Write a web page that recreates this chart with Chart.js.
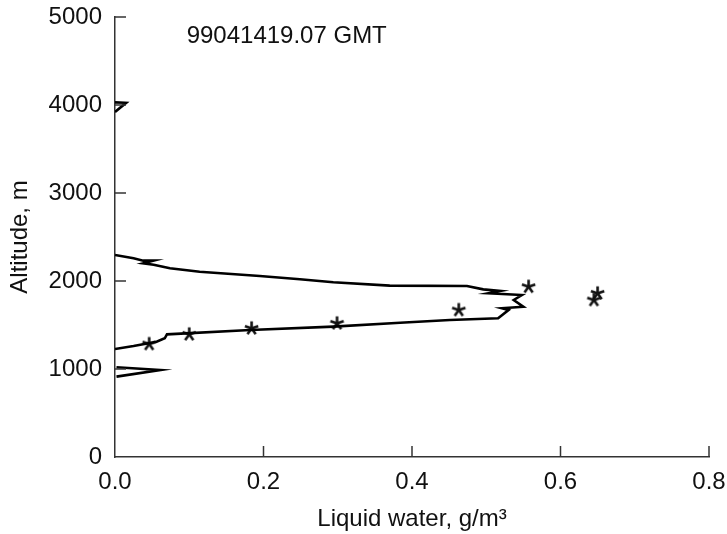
<!DOCTYPE html>
<html>
<head>
<meta charset="utf-8">
<script src="https://cdn.jsdelivr.net/npm/chart.js@4/dist/chart.umd.min.js"></script>
<style>
  html, body { margin: 0; padding: 0; background: #fff; }
  #wrap { width: 727px; height: 534px; }
</style>
</head>
<body>
<div id="wrap"><canvas id="c" width="727" height="534"></canvas></div>
<script>
// ---- data ----
const chartTitle = "99041419.07 GMT";
const xAxisTitle = "Liquid water, g/m\u00B3";
const yAxisTitle = "Altitude, m";
const xTicks = [0.0, 0.2, 0.4, 0.6, 0.8];
const yTicks = [0, 1000, 2000, 3000, 4000, 5000];

// measured liquid water profile (null = gap)
const profileLW = [
  0.000, 0.015, 0.000, null,
  0.000, 0.025, 0.038, 0.052, 0.038, 0.052, 0.074, 0.114, 0.195, 0.249, 0.294,
  0.370, 0.474, 0.496, 0.519, 0.503, 0.548, 0.537, 0.550, 0.521, 0.530, 0.516,
  0.451, 0.384, 0.294, 0.182, 0.070, 0.067, 0.056, 0.025, 0.000, null,
  0.002, 0.061, 0.002
];
const profileAlt = [
  4030, 4025, 3920, null,
  2295, 2258, 2231, 2231, 2201, 2185, 2144, 2106, 2057, 2019, 1985,
  1947, 1943, 1905, 1886, 1860, 1841, 1784, 1708, 1690, 1670, 1576,
  1557, 1526, 1481, 1443, 1394, 1349, 1310, 1261, 1227, null,
  1020, 989, 913
];

// retrieved points (asterisks)
const starLW  = [0.046, 0.100, 0.184, 0.299, 0.463, 0.557, 0.650, 0.645];
const starAlt = [1284, 1394, 1462, 1519, 1670, 1935, 1860, 1784];

// ---- build ----
const FONT = '"Liberation Sans", Arial, Helvetica, sans-serif';
const TXT = '#111';

function makeAsterisk() {
  const c = document.createElement('canvas');
  c.width = 17; c.height = 17;
  const g = c.getContext('2d');
  g.strokeStyle = '#111';
  g.lineWidth = 2.6;
  g.lineCap = 'butt';
  const cx = 8.5, cy = 8.5, r = 7;
  for (let k = 0; k < 5; k++) {
    const a = -Math.PI / 2 + k * 2 * Math.PI / 5;
    g.beginPath();
    g.moveTo(cx, cy);
    g.lineTo(cx + r * Math.cos(a), cy + r * Math.sin(a));
    g.stroke();
  }
  return c;
}

const profileData = profileLW.map((v, i) => ({ x: v, y: profileAlt[i] }));
const starData = starLW.map((v, i) => ({ x: v, y: starAlt[i] }));

const innerTicks = {
  id: 'innerTicks',
  afterDatasetsDraw(chart) {
    const { ctx, scales: { x, y }, chartArea } = chart;
    ctx.save();
    ctx.strokeStyle = '#333';
    ctx.lineWidth = 1.5;
    const L = 11;
    yTicks.forEach(v => {
      if (v === 0) return;
      const py = y.getPixelForValue(v);
      ctx.beginPath();
      ctx.moveTo(chartArea.left, py);
      ctx.lineTo(chartArea.left + L, py);
      ctx.stroke();
    });
    xTicks.forEach(v => {
      if (v === 0) return;
      const px = x.getPixelForValue(v);
      ctx.beginPath();
      ctx.moveTo(px, chartArea.bottom);
      ctx.lineTo(px, chartArea.bottom - L);
      ctx.stroke();
    });
    // inner title
    ctx.fillStyle = TXT;
    ctx.font = '24px ' + FONT;
    ctx.textAlign = 'left';
    ctx.textBaseline = 'middle';
    ctx.fillText(chartTitle, x.getPixelForValue(0.0965), y.getPixelForValue(4775));
    ctx.restore();
  }
};

new Chart(document.getElementById('c'), {
  type: 'scatter',
  data: {
    datasets: [
      {
        data: profileData,
        showLine: true,
        spanGaps: false,
        borderColor: '#000',
        borderWidth: 2.6,
        pointRadius: 0,
        tension: 0,
        fill: false
      },
      {
        data: starData,
        showLine: false,
        pointStyle: makeAsterisk(),
        pointRadius: 8,
        borderColor: '#111',
        backgroundColor: '#111'
      }
    ]
  },
  options: {
    responsive: false,
    animation: false,
    devicePixelRatio: 1,
    layout: { padding: { top: 17, right: 18, left: 0, bottom: 0 } },
    plugins: { legend: { display: false }, tooltip: { enabled: false }, title: { display: false } },
    scales: {
      x: {
        type: 'linear',
        min: 0, max: 0.8,
        afterBuildTicks: s => { s.ticks = xTicks.map(v => ({ value: v })); },
        ticks: {
          callback: v => Number(v).toFixed(1),
          font: { family: FONT, size: 24 },
          color: TXT,
          padding: 11,
          maxRotation: 0,
          autoSkip: false
        },
        grid: { display: false, drawTicks: false, tickLength: 0 },
        border: { display: true, color: '#333', width: 1.5 },
        title: {
          display: true,
          text: xAxisTitle,
          font: { family: FONT, size: 24 },
          color: TXT,
          padding: { top: 0, bottom: 0 }
        },
        afterFit: s => { s.height = 77; s.paddingLeft = 0; s.paddingRight = 0; }
      },
      y: {
        type: 'linear',
        min: 0, max: 5000,
        afterBuildTicks: s => { s.ticks = yTicks.map(v => ({ value: v })); },
        ticks: {
          callback: v => String(v),
          font: { family: FONT, size: 24 },
          color: TXT,
          padding: 13,
          autoSkip: false
        },
        grid: { display: false, drawTicks: false, tickLength: 0 },
        border: { display: true, color: '#333', width: 1.5 },
        title: {
          display: true,
          text: yAxisTitle,
          font: { family: FONT, size: 24 },
          color: TXT,
          padding: { top: 6, bottom: 0 }
        },
        afterFit: s => { s.width = 115; s.paddingTop = 0; s.paddingBottom = 0; }
      }
    }
  },
  plugins: [innerTicks]
});
</script>
</body>
</html>
